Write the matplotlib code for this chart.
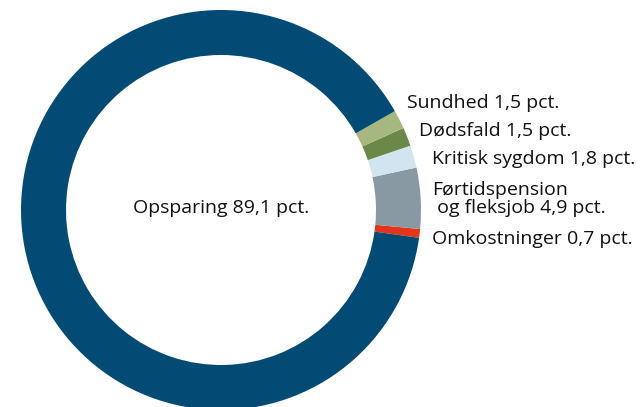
import matplotlib
matplotlib.use("Agg")
from matplotlib import pyplot as plt

# data (pct.)
labels = ["Omkostninger", "Førtidspension\n og fleksjob", "Kritisk sygdom", "Dødsfald", "Sundhed", "Opsparing"]
values = [0.7, 4.9, 1.8, 1.5, 1.5, 89.1]
colors = ["#e5341a", "#8899a4", "#d2e4ef", "#6b8849", "#a6b87f", "#034a74"]

plt.rcParams['font.family'] = ['Open Sans', 'DejaVu Sans']

W, H = 640, 407
fig = plt.figure(figsize=(W / 100, H / 100), dpi=100)
ax = fig.add_axes([0, 0, 1, 1])
ax.axis('off')

cx, cy, R = 221, H - 210, 200
ax.pie(values, colors=colors, startangle=-8, counterclock=True,
       center=(cx, cy), radius=R, normalize=True,
       wedgeprops=dict(width=45, linewidth=0))
ax.set_xlim(0, W)
ax.set_ylim(0, H)
ax.set_aspect('equal')

def fmt(v):
    return f"{v:.1f}".replace(".", ",") + " pct."

# label positions (pixels from top-left)
pos = {
    "Sundhed": (407, 103),
    "Dødsfald": (419, 131),
    "Kritisk sygdom": (432, 159),
    "Førtidspension\n og fleksjob": (432, 199),
    "Omkostninger": (432, 239),
}
for lab, v in zip(labels, values):
    if lab in pos:
        x, y = pos[lab]
        ax.text(x, H - y, lab + " " + fmt(v), fontsize=14, va='center', ha='left',
                color='#111111', linespacing=1.0)

ax.text(cx, H - 208, "Opsparing " + fmt(values[-1]), fontsize=14, ha='center', va='center',
        color='#111111')

fig.savefig("out.png", dpi=100)
